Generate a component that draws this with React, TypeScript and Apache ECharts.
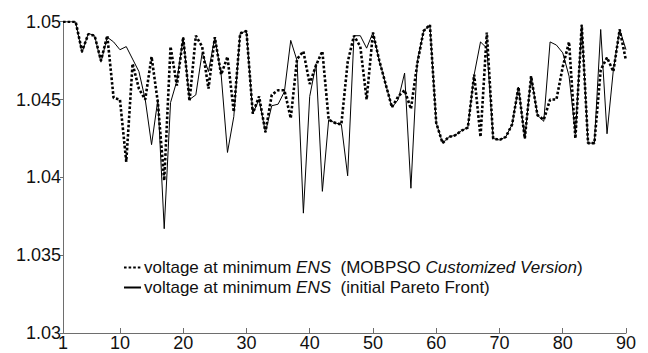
import React, { useEffect, useRef } from "react";
import * as echarts from "echarts";

const xCategories: string[] = Array.from({ length: 90 }, (_, k) => String(k + 1));
const xTickLabels = [1, 10, 20, 30, 40, 50, 60, 70, 80, 90];

const mobpso: number[] = [
  1.05, 1.05, 1.05, 1.0481, 1.0492, 1.0491, 1.0475, 1.0491, 1.0451, 1.045,
  1.041, 1.0473, 1.0457, 1.045, 1.04775, 1.0448, 1.0398, 1.0484, 1.0459, 1.049,
  1.0449, 1.0491, 1.0484, 1.0457, 1.049, 1.0466, 1.04775, 1.0442, 1.04925, 1.0494,
  1.0441, 1.0452, 1.0429, 1.0453, 1.0456, 1.0456, 1.0438, 1.0476, 1.0481, 1.046,
  1.0472, 1.0481, 1.0437, 1.0435, 1.0434, 1.0474, 1.0491, 1.0484, 1.045, 1.0493,
  1.0475, 1.046, 1.0445, 1.0452, 1.0456, 1.0444, 1.0473, 1.0494, 1.0498, 1.0435,
  1.0422, 1.0426, 1.0427, 1.043, 1.0432, 1.0466, 1.0426, 1.0493, 1.0425, 1.0424,
  1.0426, 1.0434, 1.0458, 1.0425, 1.0465, 1.044, 1.0437, 1.045, 1.045, 1.0471,
  1.0487, 1.0425, 1.0498, 1.0422, 1.0422, 1.0469, 1.0477, 1.0468, 1.0495, 1.0475,
];

const initialFront: number[] = [
  1.05, 1.05, 1.05, 1.048, 1.04925, 1.0491, 1.0474, 1.049, 1.0487, 1.0482,
  1.0484, 1.0476, 1.0468, 1.045, 1.0421, 1.045, 1.0367, 1.0448, 1.0462, 1.049,
  1.045, 1.0453, 1.048, 1.0468, 1.049, 1.0466, 1.0416, 1.0439, 1.04925, 1.0494,
  1.0441, 1.045, 1.0429, 1.0446, 1.0447, 1.0455, 1.0488, 1.0475, 1.0377, 1.0452,
  1.0473, 1.0391, 1.0437, 1.0435, 1.0434, 1.0401, 1.0491, 1.0491, 1.0483, 1.0493,
  1.0475, 1.046, 1.0445, 1.045, 1.0467, 1.0393, 1.0474, 1.0494, 1.0498, 1.0435,
  1.0422, 1.0426, 1.0427, 1.043, 1.0432, 1.0466, 1.0487, 1.0483, 1.0425, 1.0424,
  1.0426, 1.0434, 1.0458, 1.0425, 1.0465, 1.044, 1.0436, 1.0487, 1.0485, 1.048,
  1.0465, 1.0428, 1.0498, 1.0422, 1.0422, 1.0495, 1.0428, 1.0469, 1.0495, 1.0482,
];

const NAME_A = "MOBPSO";
const NAME_B = "initial";

export default function App() {
  const ref = useRef<HTMLDivElement>(null);
  useEffect(() => {
    if (!ref.current) return;
    const chart = echarts.init(ref.current, undefined, { renderer: "svg" });
    const font = "'Liberation Sans', Arial, sans-serif";
    const showIdx = (idx: number) => xTickLabels.indexOf(idx + 1) >= 0;
    chart.setOption({
      animation: false,
      backgroundColor: "#ffffff",
      grid: { left: 63, right: 22, top: 21.7, bottom: 20, containLabel: false },
      legend: {
        orient: "vertical",
        left: 123,
        top: 259,
        padding: 0,
        itemWidth: 17,
        itemHeight: 10,
        itemGap: 3,
        data: [NAME_A, NAME_B],
        itemStyle: { opacity: 0 },
        formatter: (name: string) =>
          name === NAME_A
            ? "{n|voltage at minimum }{i|ENS}{n|  (MOBPSO }{i|Customized Version}{n|)}"
            : "{n|voltage at minimum }{i|ENS}{n|  (initial Pareto Front)}",
        textStyle: {
          fontFamily: font,
          fontSize: 17,
          color: "#111",
          padding: [0, 0, 0, -2],
          rich: {
            n: { fontFamily: font, fontSize: 17, color: "#111", lineHeight: 20 },
            i: { fontFamily: font, fontSize: 17, color: "#111", fontStyle: "italic", lineHeight: 20 },
          },
        },
      },
      xAxis: {
        type: "category",
        data: xCategories,
        boundaryGap: false,
        axisLine: { lineStyle: { color: "#6e6e6e", width: 1 } },
        axisTick: { inside: true, length: 5, interval: (idx: number) => showIdx(idx), lineStyle: { color: "#6e6e6e" } },
        axisLabel: {
          interval: (idx: number) => showIdx(idx),
          margin: 1,
          fontFamily: font,
          fontSize: 18,
          color: "#111",
        },
        splitLine: { show: false },
      },
      yAxis: {
        type: "value",
        min: 1.03,
        max: 1.05,
        interval: 0.005,
        axisLine: { show: true, lineStyle: { color: "#6e6e6e", width: 1 } },
        axisTick: { show: true, inside: false, length: 3, lineStyle: { color: "#6e6e6e" } },
        axisLabel: {
          margin: 2,
          fontFamily: font,
          fontSize: 18,
          color: "#111",
          formatter: (v: number) => String(parseFloat(v.toFixed(3))),
        },
        splitLine: { show: false },
      },
      series: [
        {
          name: NAME_A,
          type: "line",
          data: mobpso,
          symbol: "none",
          z: 3,
          lineStyle: { color: "#000", width: 2.6, type: [2.6, 2], cap: "butt" },
          itemStyle: { color: "#000" },
        },
        {
          name: NAME_B,
          type: "line",
          data: initialFront,
          symbol: "none",
          z: 2,
          lineStyle: { color: "#000", width: 1 },
          itemStyle: { color: "#000" },
        },
      ],
    });
    return () => chart.dispose();
  }, []);
  return (
    <div
      ref={ref}
      style={{ position: "fixed", left: 0, top: 0, width: 648, height: 353, background: "#fff" }}
    />
  );
}
